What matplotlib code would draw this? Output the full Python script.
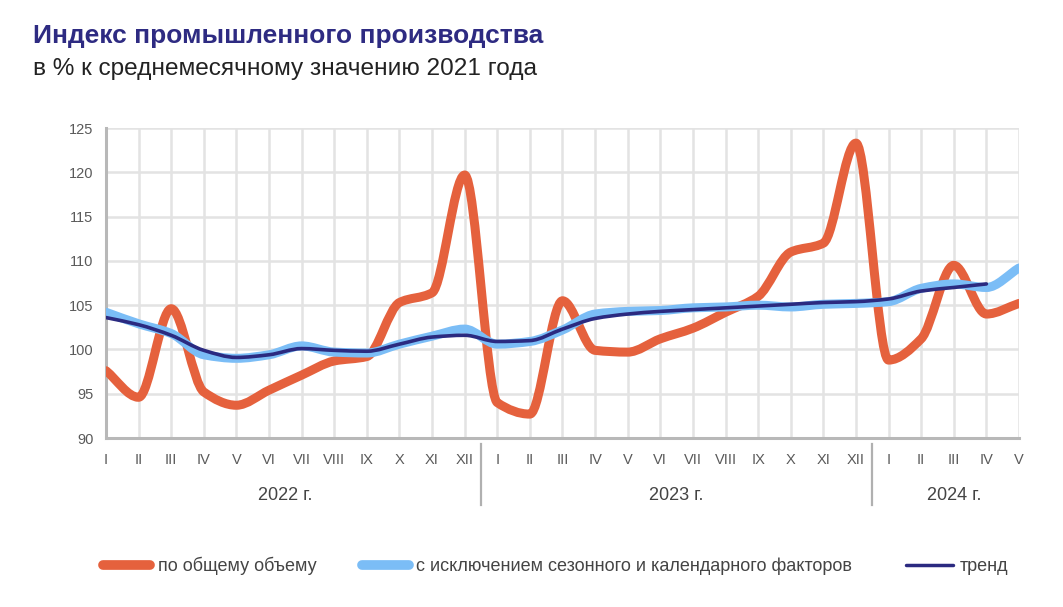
import numpy as np
import matplotlib.pyplot as plt
from matplotlib.path import Path
from matplotlib.patches import PathPatch
from matplotlib.lines import Line2D
import matplotlib.transforms as mtransforms

plt.rcParams['font.family'] = ['Liberation Sans', 'DejaVu Sans']

# months I 2022 .. V 2024
month_labels = ['I', 'II', 'III', 'IV', 'V', 'VI', 'VII', 'VIII', 'IX', 'X', 'XI', 'XII',
                'I', 'II', 'III', 'IV', 'V', 'VI', 'VII', 'VIII', 'IX', 'X', 'XI', 'XII',
                'I', 'II', 'III', 'IV', 'V']
years = ['2022 г.', '2023 г.', '2024 г.']

total = [97.6, 94.6, 104.6, 95.2, 93.7, 95.4, 97.1, 98.7, 99.2, 105.3, 106.4, 119.7,
         94.0, 92.7, 105.5, 99.9, 99.7, 101.2, 102.4, 104.2, 106.0, 111.0, 112.0, 123.3,
         98.8, 101.2, 109.5, 104.0, 105.2]
seas_adj = [104.2, 102.9, 101.8, 99.4, 99.0, 99.4, 100.4, 99.7, 99.6, 100.6, 101.5, 102.3,
            100.6, 100.9, 102.2, 104.0, 104.3, 104.4, 104.7, 104.8, 105.0, 104.8, 105.1, 105.2,
            105.4, 106.9, 107.4, 107.0, 109.2]
trend = [103.6, 102.8, 101.6, 99.9, 99.1, 99.4, 100.1, 99.9, 99.8, 100.6, 101.4, 101.6,
         100.9, 101.0, 102.3, 103.5, 104.0, 104.3, 104.5, 104.7, 104.9, 105.1, 105.3, 105.4,
         105.7, 106.6, 107.0, 107.4]

c_total = '#e5613d'
c_seas = '#7bbdf6'
c_trend = '#2b2a80'


def smooth_path(x, y):
    # monotone (Fritsch-Carlson) bezier through the monthly points, no overshoot
    x = np.asarray(x, float)
    y = np.asarray(y, float)
    h = np.diff(x)
    d = np.diff(y) / h
    m = np.zeros_like(y)
    m[0], m[-1] = d[0], d[-1]
    for i in range(1, len(y) - 1):
        if d[i - 1] * d[i] > 0:
            m[i] = 2.0 / (1.0 / d[i - 1] + 1.0 / d[i])
    verts = [(x[0], y[0])]
    codes = [Path.MOVETO]
    for i in range(len(x) - 1):
        verts += [(x[i] + h[i] / 3, y[i] + m[i] * h[i] / 3),
                  (x[i + 1] - h[i] / 3, y[i + 1] - m[i + 1] * h[i] / 3),
                  (x[i + 1], y[i + 1])]
        codes += [Path.CURVE4] * 3
    return Path(verts, codes)


fig = plt.figure(figsize=(10.63, 6.07), dpi=100)
ax = fig.add_axes([0.0997, 0.2784, 0.8589, 0.5106])

for vals, col, lw, z in [(total, c_total, 6.5, 3), (seas_adj, c_seas, 6.5, 4), (trend, c_trend, 2.6, 5)]:
    p = smooth_path(np.arange(len(vals)), vals)
    ax.add_patch(PathPatch(p, fill=False, edgecolor=col, lw=lw, capstyle='round',
                           joinstyle='round', zorder=z))

ax.set_xlim(0, len(month_labels) - 1)
ax.set_ylim(90, 125)
ax.set_yticks(np.arange(90, 126, 5))
ax.set_xticks(np.arange(len(month_labels)))
ax.set_xticklabels(month_labels)
ax.grid(True, color='#e3e3e3', lw=1.8, zorder=0)
ax.set_axisbelow(True)
for s in ['top', 'right']:
    ax.spines[s].set_visible(False)
for s in ['left', 'bottom']:
    ax.spines[s].set_color('#b8b8b8')
    ax.spines[s].set_linewidth(2.2)
ax.tick_params(length=0, labelsize=10.5, colors='#5a5a5a', pad=9)
ax.tick_params(axis='x', pad=11)

trans = mtransforms.blended_transform_factory(ax.transData, ax.transAxes)
for xd in [11.5, 23.5]:
    ax.plot([xd, xd], [-0.02, -0.216], color='#b0b0b0', lw=1.6, transform=trans, clip_on=False)
for xc, lab in zip([5.5, 17.5, 26.0], years):
    ax.text(xc, -0.184, lab, transform=trans, ha='center', va='center', fontsize=13, color='#444444')

fig.text(0.031, 0.94, 'Индекс промышленного производства', fontsize=19, fontweight='bold',
         color='#2e2b82', va='center')
fig.text(0.031, 0.887, 'в % к среднемесячному значению 2021 года', fontsize=17.6, color='#222222',
         va='center')

# legend
leg_items = [(0.094, c_total, 7, 'по общему объему'),
             (0.337, c_seas, 7, 'с исключением сезонного и календарного факторов'),
             (0.849, c_trend, 2.5, 'тренд')]
for xl, col, lw, lab in leg_items:
    fig.legend(handles=[Line2D([], [], color=col, lw=lw, solid_capstyle='round')], labels=[lab],
               loc='center left', bbox_to_anchor=(xl - 0.012, 0.067), frameon=False,
               fontsize=13, handlelength=2.6, handletextpad=0.4, labelcolor='#444444')

fig.savefig('out.png', dpi=100)
